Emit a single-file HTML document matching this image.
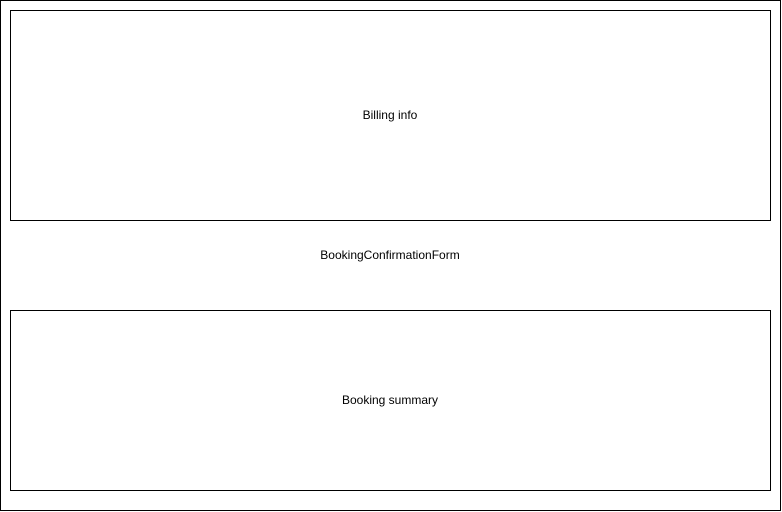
<!DOCTYPE html>
<html><head><meta charset="utf-8"><style>
html,body{margin:0;padding:0;background:#fff;width:782px;height:512px;overflow:hidden}
svg{display:block}
text{font-family:"Liberation Sans",Helvetica,Arial,sans-serif;font-size:12px;fill:#000}
</style></head><body>
<svg width="782" height="512" viewBox="0 0 782 512">
<rect x="0.5" y="0.5" width="780" height="510" fill="#fff" stroke="#000" stroke-width="1"/>
<rect x="10.5" y="10.5" width="760" height="210" fill="#fff" stroke="#000" stroke-width="1"/>
<rect x="10.5" y="310.5" width="760" height="180" fill="#fff" stroke="#000" stroke-width="1"/>
<text x="390" y="119" text-anchor="middle">Billing info</text>
<text x="390" y="259" text-anchor="middle">BookingConfirmationForm</text>
<text x="390" y="404" text-anchor="middle">Booking summary</text>
</svg>
</body></html>
